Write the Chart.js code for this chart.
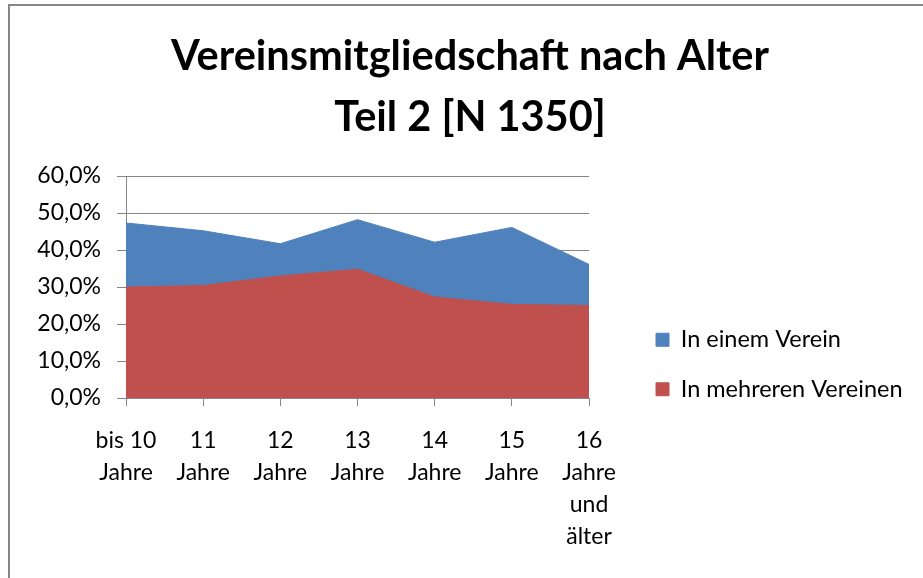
<!DOCTYPE html>
<html>
<head>
<meta charset="utf-8">
<script src="https://cdn.jsdelivr.net/npm/chart.js@4.4.1/dist/chart.umd.min.js"></script>
<style>
html,body{margin:0;padding:0;background:#fff;overflow:hidden}
#wrap{position:relative;width:923px;height:578px;overflow:hidden;background:#fff}
#frame{position:absolute;left:8px;top:4px;width:960px;height:640px;border-left:2px solid #878787;border-top:2px solid #878787;pointer-events:none}
canvas{position:absolute;left:0;top:0}
</style>
</head>
<body>
<div id="wrap"><canvas id="c" width="923" height="578" style="width:923px;height:578px"></canvas><div id="frame"></div></div>
<script>
// ---- data ----
const categories = [
  ['bis 10','Jahre'],
  ['11','Jahre'],
  ['12','Jahre'],
  ['13','Jahre'],
  ['14','Jahre'],
  ['15','Jahre'],
  ['16','Jahre','und','älter']
];
const seriesNames = ['In einem Verein', 'In mehreren Vereinen'];
const einemVerein    = [47.3, 45.2, 41.7, 48.2, 42.1, 46.1, 36.1];
const mehrereVereine = [30.0, 30.4, 33.0, 34.8, 27.3, 25.3, 25.0];
const yMin = 0, yMax = 60, yStep = 10;
const titleLines = ['Vereinsmitgliedschaft nach Alter', 'Teil 2 [N 1350]'];

// ---- layout helpers ----
const LEGEND_W = 334;
const LEGEND_FONT = 23.5;
const LEGEND_PAD = 26;
const LEGEND_X = 656;
const LEGEND_ITEM_Y = 328;

const legendPlace = {
  id: 'legendPlace',
  beforeLayout(chart) {
    const lg = chart.legend;
    if (lg && !lg._fitWrapped) {
      const f = lg.fit;
      lg.fit = function () { f.call(this); this.width = LEGEND_W; };
      lg._fitWrapped = true;
    }
  },
  afterLayout(chart) {
    const lg = chart.legend;
    if (!lg) return;
    const w = lg.right - lg.left;
    lg.left = LEGEND_X - LEGEND_PAD;
    lg.right = lg.left + w;
    const colH = 2 * (LEGEND_FONT + LEGEND_PAD);
    lg.top = 280;
    lg.bottom = 2 * LEGEND_ITEM_Y - lg.top - LEGEND_PAD + colH;
  }
};

Chart.defaults.font.family = 'Lato';
const gridGray = '#868686';

new Chart(document.getElementById('c'), {
  type: 'line',
  data: {
    labels: categories,
    datasets: [
      {
        label: seriesNames[0],
        data: einemVerein,
        backgroundColor: '#4F81BD',
        borderColor: '#4F81BD',
        borderWidth: 1,
        fill: 'origin',
        pointRadius: 0,
        tension: 0,
        order: 1
      },
      {
        label: seriesNames[1],
        data: mehrereVereine,
        backgroundColor: '#C0504D',
        borderColor: '#C0504D',
        borderWidth: 1,
        fill: 'origin',
        pointRadius: 0,
        tension: 0,
        order: 0
      }
    ]
  },
  options: {
    responsive: false,
    animation: false,
    devicePixelRatio: 1,
    layout: { padding: { left: 17, right: 0, top: 0, bottom: 0 } },
    plugins: {
      title: {
        display: true,
        text: titleLines,
        color: '#000',
        font: { family: 'Lato', size: 41.5, weight: 'bold', lineHeight: 61 / 41.5 },
        padding: { top: 26, bottom: 28 }
      },
      legend: {
        position: 'right',
        labels: {
          boxWidth: 13,
          boxHeight: 13,
          padding: LEGEND_PAD,
          color: '#000',
          font: { family: 'Lato', size: LEGEND_FONT },
          sort: (a, b) => a.datasetIndex - b.datasetIndex
        }
      },
      tooltip: { enabled: false }
    },
    scales: {
      x: {
        offset: false,
        grid: { display: true, drawOnChartArea: false, tickLength: 8, color: gridGray, lineWidth: 1 },
        border: { display: true, color: gridGray },
        ticks: {
          color: '#000',
          font: { family: 'Lato', size: 23, lineHeight: 32 / 23 },
          padding: 19,
          maxRotation: 0,
          autoSkip: false
        },
        afterFit(s) { s.height = 180; }
      },
      y: {
        min: yMin,
        max: yMax,
        grid: { color: gridGray, tickLength: 9, lineWidth: 1 },
        border: { display: true, color: gridGray },
        ticks: {
          stepSize: yStep,
          padding: 16,
          color: '#000',
          font: { family: 'Lato', size: 23 },
          callback: v => v.toFixed(1).replace('.', ',') + '%'
        },
        afterFit(s) { s.width = 109; }
      }
    }
  },
  plugins: [legendPlace]
});
</script>
</body>
</html>
